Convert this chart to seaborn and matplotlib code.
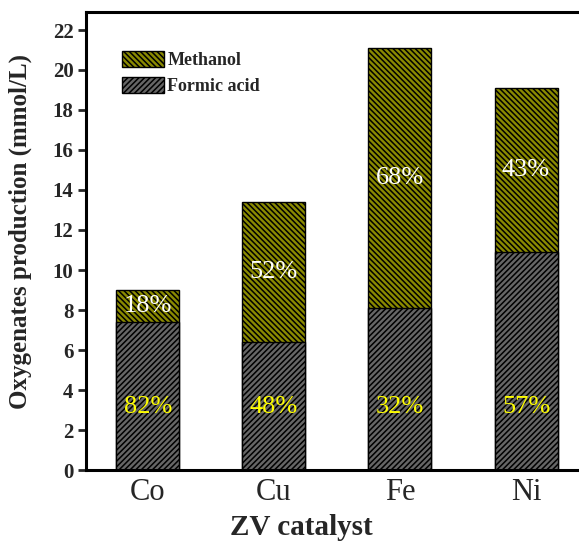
import numpy as np
import pandas as pd
import matplotlib
matplotlib.use('Agg')
import matplotlib.pyplot as plt
import seaborn as sns
from matplotlib.patches import Patch

catalysts = ['Co', 'Cu', 'Fe', 'Ni']
formic = [7.4, 6.4, 8.1, 10.9]
methanol = [1.6, 7.0, 13.0, 8.2]
formic_pct = ['82%', '48%', '32%', '57%']
methanol_pct = ['18%', '52%', '68%', '43%']

df = pd.DataFrame({'catalyst': catalysts, 'formic': formic, 'methanol': methanol})
df['total'] = df['formic'] + df['methanol']

sns.set_style('white')
plt.rcParams['font.family'] = ['Liberation Serif', 'DejaVu Serif']
plt.rcParams['hatch.linewidth'] = 1.1
plt.rcParams['hatch.color'] = 'black'

fig = plt.figure(figsize=(5.79, 5.45), dpi=100)
ax = fig.add_axes([86/579, 75/545, 493/579, 458/545])

meth_col = '#8a8a00'
form_col = '#666666'
meth_hatch = '\\' * 6
form_hatch = '/' * 6

# total (methanol on top) first, formic drawn over it
sns.barplot(data=df, x='catalyst', y='total', color=meth_col, width=0.5,
            saturation=1, edgecolor='black', linewidth=1, ax=ax)
n = len(ax.patches)
sns.barplot(data=df, x='catalyst', y='formic', color=form_col, width=0.5,
            saturation=1, edgecolor='black', linewidth=1, ax=ax)
for i, p in enumerate(ax.patches):
    p.set_hatch(meth_hatch if i < n else form_hatch)

for i in range(len(catalysts)):
    ax.text(i, formic[i] + methanol[i] / 2, methanol_pct[i], color='white',
            ha='center', va='center', fontsize=19)
    ax.text(i, 3.15, formic_pct[i], color='yellow',
            ha='center', va='center', fontsize=19)

ax.set_xlim(-0.49, 3.42)
ax.set_ylim(0, 22.9)
ax.set_yticks(np.arange(0, 23, 2))
ax.tick_params(axis='y', direction='out', length=6, width=2, left=True,
               labelsize=15, pad=3)
ax.tick_params(axis='x', length=0, labelsize=22, pad=6)
for lab in ax.get_yticklabels():
    lab.set_fontweight('bold')

for s in ['left', 'top', 'bottom']:
    ax.spines[s].set_linewidth(2.2)
    ax.spines[s].set_color('black')
ax.spines['right'].set_visible(False)

ax.set_xlabel('ZV catalyst', fontsize=21, fontweight='bold')
ax.xaxis.set_label_coords(0.436, -0.097)
ax.set_ylabel('Oxygenates production (mmol/L)', fontsize=18, fontweight='bold')
ax.yaxis.set_label_coords(-0.11, 0.52)

handles = [Patch(facecolor=meth_col, edgecolor='black', hatch=meth_hatch, label='Methanol'),
           Patch(facecolor=form_col, edgecolor='black', hatch=form_hatch, label='Formic acid')]
ax.legend(handles=handles, loc='upper left', bbox_to_anchor=(0.048, 0.943),
          frameon=False, prop={'weight': 'bold', 'size': 13},
          handlelength=2.3, handleheight=1.0, handletextpad=0.2, labelspacing=0.45,
          borderpad=0.2)

fig.savefig('out.png', dpi=100)
